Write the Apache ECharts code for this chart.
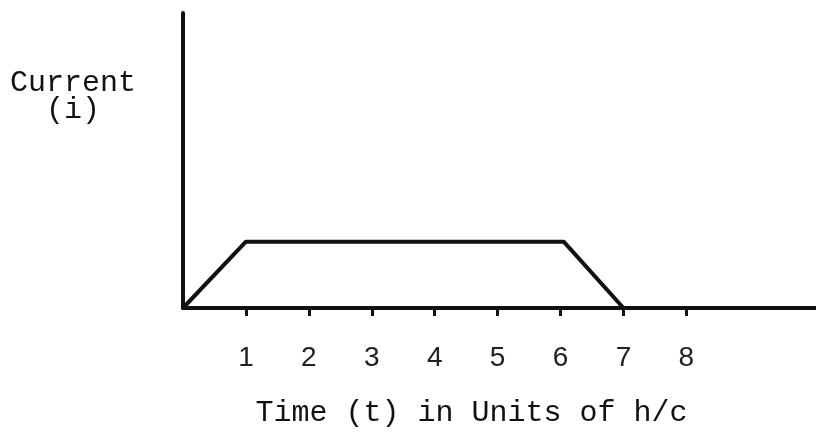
<!DOCTYPE html>
<html>
<head>
<meta charset="utf-8">
<script src="https://cdn.jsdelivr.net/npm/echarts@6/dist/echarts.min.js"></script>
<style>
html, body { margin:0; padding:0; background:#fff; }
#chart { width:816px; height:433px; }
</style>
</head>
<body>
<div id="chart"></div>
<script>
// time points (units of h/c) and current (arbitrary height)
var timeVals = [0, 1, 6.05, 7, 10.06];
var currentVals = [0, 2.25, 2.25, 0, 0];
var tickVals = [1, 2, 3, 4, 5, 6, 7, 8];
var tickLabels = ['1', '2', '3', '4', '5', '6', '7', '8'];
var xName = 'Time (t) in Units of h/c';
var yName = 'Current\n(i)';

var ink = '#111';
var myChart = echarts.init(document.getElementById('chart'));

var pts = [];
for (var i = 0; i < timeVals.length; i++) {
	pts.push([timeVals[i], currentVals[i]]);
}

var option = {
	backgroundColor : '#fff',
	animation : false,
	grid : {
		left : 183,
		right : 0,
		top : 13,
		bottom : 124
	},
	xAxis : {
		type : 'value',
		min : 0,
		max : 10.06,
		interval : 1,
		name : xName,
		nameLocation : 'middle',
		nameGap : 90,
		nameTextStyle : {
			fontFamily : 'Liberation Mono',
			fontSize : 30,
			color : ink,
			padding : [0, 56, 0, 0]
		},
		axisLine : { lineStyle : { color : ink, width : 4 } },
		axisTick : {
			show : true,
			inside : false,
			length : 8,
			customValues : tickVals,
			lineStyle : { color : ink, width : 3 }
		},
		splitLine : { show : false },
		axisLabel : {
			margin : 36,
			fontFamily : 'Liberation Sans',
			fontSize : 28,
			color : '#222',
			customValues : tickVals,
			formatter : function (v) { return tickLabels[tickVals.indexOf(v)] || ''; }
		}
	},
	yAxis : {
		type : 'value',
		min : 0,
		max : 10,
		axisLine : { show : true, lineStyle : { color : ink, width : 4 } },
		axisTick : { show : false },
		axisLabel : { show : false },
		splitLine : { show : false }
	},
	graphic : [{
		type : 'text',
		x : 73,
		y : 70,
		style : {
			text : yName,
			fontFamily : 'Liberation Mono',
			fontSize : 30,
			lineHeight : 27,
			fill : ink,
			align : 'center'
		}
	}],
	series : [{
		type : 'line',
		data : pts,
		symbol : 'none',
		lineStyle : { color : ink, width : 4 }
	}]
};
myChart.setOption(option);
</script>
</body>
</html>
